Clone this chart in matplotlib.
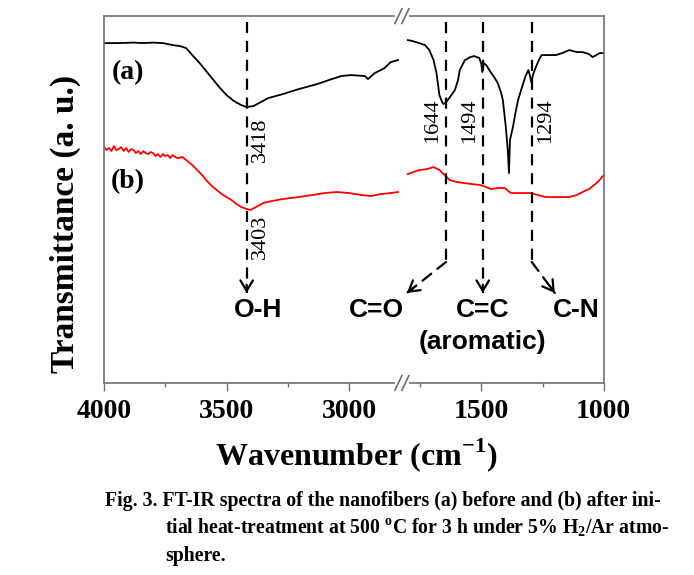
import matplotlib
matplotlib.use("Agg")
import matplotlib.pyplot as plt
import numpy as np

# FT-IR spectra (arbitrary transmittance units)
wn_a_left = [4000, 3940, 3880, 3840, 3800, 3760, 3720, 3690, 3665, 3640, 3610, 3580, 3560, 3530,
             3500, 3470, 3440, 3418, 3390, 3360, 3330, 3270, 3205, 3130, 3070, 3032, 2992, 2935,
             2923, 2895, 2855, 2830, 2800]
tr_a_left = [357, 357, 357.5, 357, 357.5, 357, 355, 354, 352, 345, 337, 328, 322, 313,
             305, 299, 295, 293, 294, 298, 302, 306, 311, 316, 321, 324, 325, 324,
             321, 327, 332, 338, 340]

wn_b_left = [4000, 3990, 3980, 3970, 3960, 3950, 3940, 3930, 3920, 3910, 3900, 3890, 3880, 3870,
             3860, 3850, 3840, 3830, 3820, 3810, 3800, 3790, 3780, 3770, 3760, 3750, 3740, 3730,
             3720, 3710, 3700, 3680, 3660, 3640, 3620, 3600, 3580, 3560, 3540, 3520, 3500, 3480,
             3460, 3440, 3418, 3403, 3380, 3350, 3316, 3270, 3206, 3150, 3100, 3050, 3000, 2950,
             2911, 2870, 2830, 2800]
tr_b_left = [253, 250, 252, 249, 254, 250, 251, 253, 249, 252, 248, 251, 250, 247,
             249, 246, 249, 247, 246, 248, 247, 244, 246, 243, 246, 244, 245, 242,
             245, 243, 242, 243, 239, 235, 230, 225, 219, 214, 210, 206, 203, 200,
             196, 193, 191, 190, 193, 197, 199, 201, 203, 205, 207, 208, 207, 205,
             204, 206, 207, 208]

wn_a_right = [1800, 1780, 1754, 1730, 1712, 1695, 1683, 1671, 1660, 1654, 1640, 1625, 1608, 1595,
              1588, 1567, 1545, 1529, 1508, 1500, 1496, 1490, 1480, 1462, 1445, 1433, 1420, 1412,
              1400, 1392, 1387, 1383, 1371, 1360, 1350, 1335, 1321, 1308, 1302, 1296, 1288, 1279,
              1265, 1254, 1230, 1196, 1170, 1141, 1110, 1087, 1060, 1046, 1030, 1017, 1000]
tr_a_right = [360, 359, 357, 355, 350, 340, 327, 305, 298, 296, 299, 304, 310, 320,
              330, 340, 343, 344, 342, 336, 328, 337, 335, 328, 322, 317, 308, 300,
              273, 250, 227, 260, 273, 288, 300, 312, 323, 330, 325, 318, 326, 332,
              340, 345, 345, 345, 347, 350, 348, 348, 346, 343, 345, 347, 347]

wn_b_right = [1800, 1754, 1720, 1696, 1671, 1650, 1629, 1600, 1571, 1540, 1504, 1480, 1462, 1430,
              1404, 1390, 1379, 1340, 1296, 1270, 1238, 1190, 1141, 1110, 1087, 1060, 1029, 1010, 1000]
tr_b_right = [226, 230, 231, 233, 230, 225, 220, 218, 217, 216, 215, 213, 211, 212,
              212, 209, 207, 207, 207, 205, 203, 203, 203, 205, 208, 211, 217, 222, 225]

major_ticks = [4000, 3500, 3000, 1500, 1000]
minor_ticks = [3750, 3250, 1750, 1250]

# peak markers: (wavenumber, label, label side, label height)
peaks_top = [(3418, "3418", 1, 260), (1644, "1644", -1, 279), (1494, "1494", -1, 279), (1294, "1294", 1, 279)]
peak_b = (3418, "3403", 1, 163)

plt.rcParams['font.family'] = ['Liberation Serif', 'DejaVu Serif']
plt.rcParams['mathtext.fontset'] = 'custom'
plt.rcParams['mathtext.rm'] = 'Liberation Serif:bold'
plt.rcParams['mathtext.bf'] = 'Liberation Serif:bold'


# broken axis: squeeze 2800-1800 into a narrow gap
def fwd(x):
    x = np.asarray(x, dtype=float)
    return np.where(x <= 1800, x, np.where(x >= 2800, x - 960, 1800 + (x - 1800) * 0.04))


def inv(u):
    u = np.asarray(u, dtype=float)
    return np.where(u <= 1800, u, np.where(u >= 1840, u + 960, 1800 + (u - 1800) / 0.04))


fig = plt.figure(figsize=(6.94, 5.75), dpi=100)
ax = fig.add_axes([0.150, 0.334, 0.720, 0.638])
ax.set_xscale('function', functions=(fwd, inv))

ax.plot(wn_a_left, tr_a_left, color='black', lw=1.3)
ax.plot(wn_a_right, tr_a_right, color='black', lw=1.3)
ax.plot(wn_b_left, tr_b_left, color='red', lw=1.3)
ax.plot(wn_b_right, tr_b_right, color='red', lw=1.3)

ax.set_xlim(4000, 1000)
ax.set_ylim(17, 384)
ax.set_yticks([])
ax.set_xticks(major_ticks)
ax.set_xticks(minor_ticks, minor=True)
ax.set_xticklabels([str(t) for t in major_ticks], fontsize=20, fontweight='bold')
ax.tick_params(axis='x', which='major', direction='out', length=5.5, width=1, color='#6e6e6e', pad=6)
ax.tick_params(axis='x', which='minor', direction='out', length=3, width=1, color='#6e6e6e')
for s in ax.spines.values():
    s.set_color('#6e6e6e')
    s.set_linewidth(1.2)

dash = (0, (5, 3.5))
top, bend, tip = 378, 138, 107

# vertical dashed guides
for wn, lab, side, ly in peaks_top:
    end = tip if lab in ("3418", "1494") else bend
    ax.plot([wn, wn], [top, end], color='black', lw=1.6, linestyle=dash)
    ax.annotate(lab, xy=(wn, ly), xytext=(side * 3, 0), textcoords='offset points',
                rotation=90, ha='left' if side > 0 else 'right', va='center', fontsize=16)
ax.annotate(peak_b[1], xy=(peak_b[0], peak_b[3]), xytext=(3, 0), textcoords='offset points',
            rotation=90, ha='left', va='center', fontsize=16)

# diagonal dashed arrows for C=O and C-N
head = dict(arrowstyle='->, head_length=0.5, head_width=0.3', lw=1.6, color='black',
            mutation_scale=15, shrinkA=0, shrinkB=0)
for wn, tipx, off in [(1644, 0.606, (4.7, 3.7)), (1294, 0.902, (-3.5, 4.9))]:
    ax.annotate('', xy=(tipx, tip), xycoords=('axes fraction', 'data'), xytext=(wn, bend),
                textcoords='data',
                arrowprops=dict(arrowstyle='-', lw=1.6, linestyle=dash, color='black',
                                shrinkA=0, shrinkB=0))
    ax.annotate('', xy=(tipx, tip), xycoords=('axes fraction', 'data'), xytext=off,
                textcoords='offset points', arrowprops=head)
for wn in [3418, 1494]:
    ax.annotate('', xy=(wn, tip), xytext=(0, 6), textcoords='offset points', arrowprops=head)

sans = ['Liberation Sans', 'DejaVu Sans']
for txt, x, y in [("O-H", 0.308, 0.199), ("C=O", 0.546, 0.199), ("C=C", 0.758, 0.199),
                  ("(aromatic)", 0.758, 0.112), ("C-N", 0.944, 0.199)]:
    ax.text(x, y, txt, transform=ax.transAxes, ha='center', va='center',
            fontsize=19, fontweight='bold', family=sans)

ax.text(0.048, 0.847, "(a)", transform=ax.transAxes, ha='center', va='center', fontsize=20, fontweight='bold')
ax.text(0.048, 0.548, "(b)", transform=ax.transAxes, ha='center', va='center', fontsize=20, fontweight='bold')

# break marks on top and bottom spines
for yb in (0, 1):
    ax.plot([0.586, 0.606], [yb, yb], transform=ax.transAxes, color='white', lw=3,
            clip_on=False, zorder=5)
    for xb in (0.589, 0.603):
        ax.plot([xb - 0.007, xb + 0.007], [yb - 0.02, yb + 0.02], transform=ax.transAxes,
                color='#6e6e6e', lw=1.2, clip_on=False, zorder=6)

ax.set_xlabel(r"Wavenumber (cm$^{\mathbf{-1}}$)", fontsize=23, fontweight='bold')
ax.xaxis.set_label_coords(0.504, -0.145)
fig.text(65 / 694, 1 - 224 / 575, "Transmittance (a. u.)", rotation=90, ha='center', va='center',
         fontsize=24, fontweight='bold')

cap = dict(fontsize=14.2, fontweight='bold', ha='left', va='center')
fig.text(105 / 694, 1 - 501 / 575,
         "Fig. 3. FT-IR spectra of the nanofibers (a) before and (b) after ini-", **cap)
fig.text(165 / 694, 1 - 528 / 575,
         r"tial heat-treatment at 500 $^{\mathbf{o}}$C for 3 h under 5% H$_{\mathbf{2}}$/Ar atmo-", **cap)
fig.text(165 / 694, 1 - 556 / 575, "sphere.", **cap)

fig.savefig("out.png", dpi=100)
